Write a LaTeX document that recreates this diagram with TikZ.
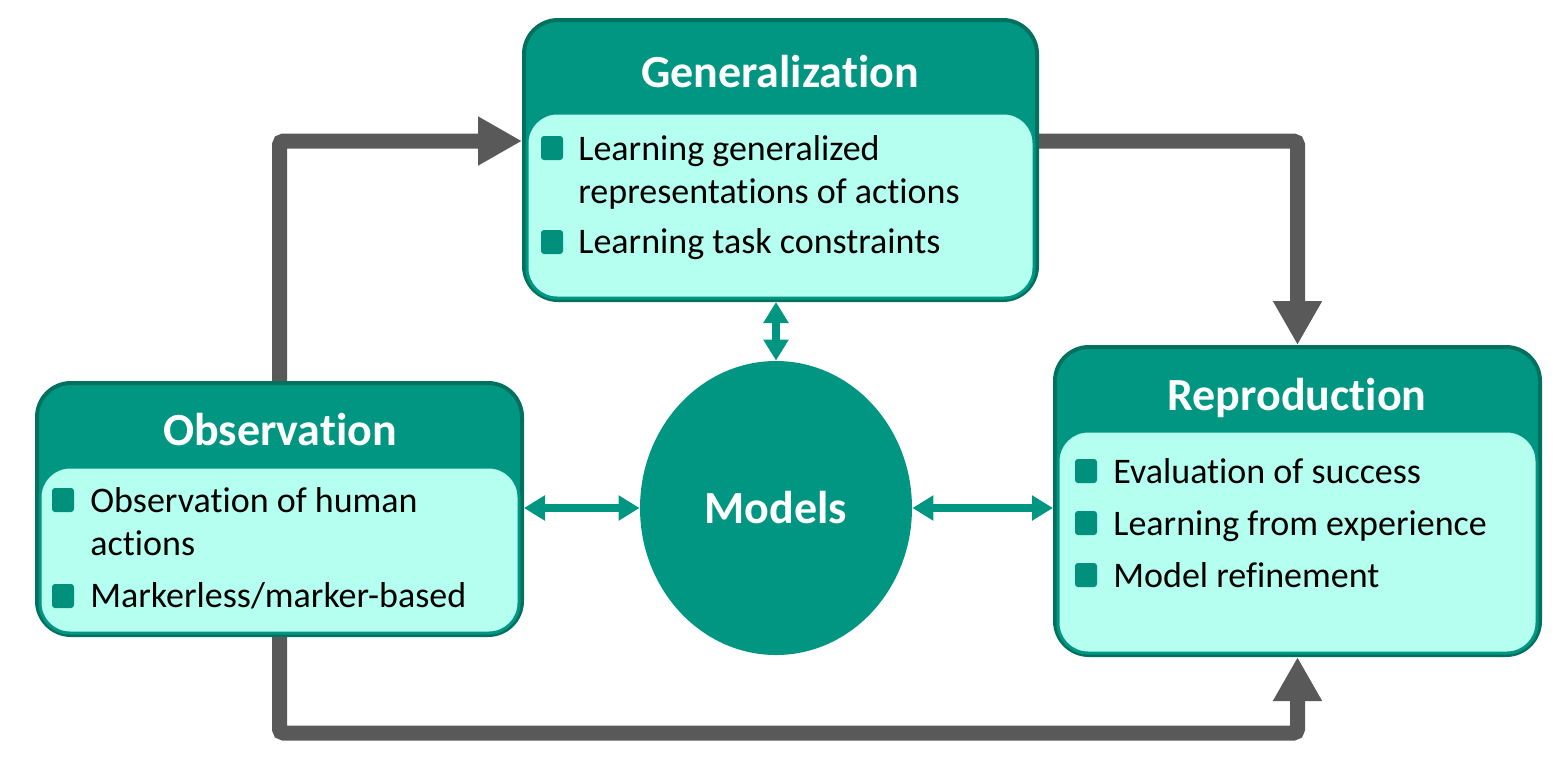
\documentclass[tikz,border=0pt]{standalone}
\usepackage{fontspec}
\setmainfont{Carlito}[Ligatures={NoCommon,NoContextual},RawFeature={-liga;-clig;-calt;-dlig}]
\usetikzlibrary{shapes.geometric,arrows.meta}
\definecolor{tealmain}{HTML}{009682}
\definecolor{tealdark}{HTML}{00705F}
\definecolor{tealbullet}{HTML}{00907B}
\definecolor{lightfill}{HTML}{B4FFF0}
\definecolor{arrowgray}{HTML}{595959}
\begin{document}
\begin{tikzpicture}[x=0.5pt,y=-0.5pt,
  outerbox/.style={draw=tealdark,line width=2pt,fill=tealmain,rounded corners=17pt,inner sep=0pt},
  innerbox/.style={draw=tealmain,line width=1.5pt,fill=lightfill,rounded corners=15pt,inner sep=0pt},
  headtext/.style={anchor=base,inner sep=0pt,text=white,font=\fontsize{23}{27}\selectfont\bfseries},
  itemtext/.style={anchor=base west,inner sep=0pt,text=black,font=\fontsize{18}{21.5}\selectfont},
  bulletbox/.style={fill=tealbullet,rounded corners=1.5pt,minimum width=11pt,minimum height=12pt,inner sep=0pt},
  grayarrow/.style={draw=arrowgray,line width=7.5pt,rounded corners=2pt,-{Triangle[length=22pt,width=23pt]}},
  tealarrow/.style={draw=tealmain,line width=4pt,{Triangle[length=10.5pt,width=12pt]}-{Triangle[length=10.5pt,width=12pt]}}
]
\useasboundingbox (0,0) rectangle (1560,757);

% Generalization
\node[outerbox,minimum width=256.5pt,minimum height=140pt] (gen) at (780.5,160) {};
\node[innerbox,minimum width=253.5pt,minimum height=92.5pt] (genin) at (780.5,205.5) {};
\node[headtext] (gent) at (780,87) {Generalization};
\node[bulletbox] (gb1) at (552,148) {};
\node[bulletbox] (gb2) at (552,242) {};
\node[itemtext] (gt1) at (578,160) {Learning generalized};
\node[itemtext] (gt2) at (578,203) {representations of actions};
\node[itemtext] (gt3) at (578,253) {Learning task constraints};

% Observation
\node[outerbox,minimum width=242.5pt,minimum height=126pt] (obs) at (279.5,509) {};
\node[innerbox,minimum width=239.5pt,minimum height=83pt] (obsin) at (279.5,550) {};
\node[headtext] (obst) at (280,445) {Observation};
\node[bulletbox] (ob1) at (63,500) {};
\node[bulletbox] (ob2) at (63,596) {};
\node[itemtext] (ot1) at (90,512) {Observation of human};
\node[itemtext] (ot2) at (90,555) {actions};
\node[itemtext] (ot3) at (90,607) {Markerless/marker-based};

% Reproduction
\node[outerbox,minimum width=242.5pt,minimum height=154pt] (rep) at (1297.5,501) {};
\node[innerbox,minimum width=239.5pt,minimum height=111pt] (repin) at (1297.5,542) {};
\node[headtext] (rept) at (1297,410) {Reproduction};
\node[bulletbox] (rb1) at (1086,471) {};
\node[bulletbox] (rb2) at (1086,523) {};
\node[bulletbox] (rb3) at (1086,575) {};
\node[itemtext] (rt1) at (1113,483) {Evaluation of success};
\node[itemtext] (rt2) at (1113,535) {Learning from experience};
\node[itemtext] (rt3) at (1113,587) {Model refinement};

% Models
\node[ellipse,fill=tealmain,minimum width=136pt,minimum height=147pt,inner sep=0pt] (models) at (776,508) {};
\node[headtext] (modt) at (776,523) {Models};

% Gray flow arrows
\draw[grayarrow] (obs.north) |- (gen.west |- 0,141);
\draw[grayarrow] (gen.east |- 0,141) -| (rep.north);
\draw[grayarrow] (obs.south) -- (obs.south |- 0,733) -- (rep.south |- 0,733) -- (rep.south);

% Teal double arrows
\draw[tealarrow] (gen.south -| models.north) -- (models.north);
\draw[tealarrow] (obs.east |- models.west) -- (models.west);
\draw[tealarrow] (models.east) -- (models.east -| rep.west);
\end{tikzpicture}
\end{document}
